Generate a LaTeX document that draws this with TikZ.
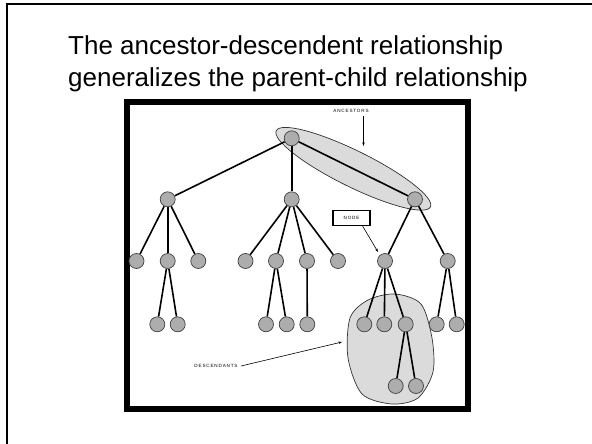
\documentclass[tikz,border=0pt]{standalone}
\usepackage{fontspec}
\setmainfont{Liberation Sans}
\usetikzlibrary{arrows.meta,positioning,shapes.geometric,calc,backgrounds}
\definecolor{vertgray}{rgb}{0.68,0.68,0.68}
\definecolor{blobgray}{rgb}{0.86,0.86,0.86}

\begin{document}
\begin{tikzpicture}[x=1pt,y=-1pt,
   vx/.style={circle,draw=black!75,fill=vertgray,line width=0.7pt,minimum size=15pt,inner sep=0pt},
   ed/.style={line width=1.6pt},
   tag/.style={font=\fontsize{4.6}{5}\selectfont\addfontfeature{LetterSpace=18}},
   ttl/.style={font=\fontsize{26}{30}\selectfont,anchor=base west,inner sep=0pt},
   pointer/.style={-{Stealth[length=3.5pt,width=2.5pt]},line width=0.6pt}]
  \useasboundingbox (0,0) rectangle (592,444);
  % slide frame
  \draw[line width=2pt] (592,4) -- (7,4) -- (7,444);
  \node[ttl] (t1) at (68,54.5) {The ancestor-descendent relationship};
  \node[ttl] (t2) at (68,87) {generalizes the parent-child relationship};
  \draw[line width=6pt] (127,102) rectangle (468,409);
  % the tree
  \node[vx] (r) at (291.7,138.3) {};
  \node[vx] (a) at (167.7,199.3) {};
  \node[vx] (b) at (291.7,199.3) {};
  \node[vx] (c) at (415,199.3) {};
  \node[vx] (a1) at (136.5,261) {};
  \node[vx] (a2) at (167.7,261) {};
  \node[vx] (a3) at (198.3,261) {};
  \node[vx] (b1) at (245.5,261) {};
  \node[vx] (b2) at (276,261) {};
  \node[vx] (b3) at (307,261) {};
  \node[vx] (b4) at (338,261) {};
  \node[vx] (c1) at (385,261) {};
  \node[vx] (c2) at (447.7,261) {};
  \node[vx] (a21) at (157.3,324.3) {};
  \node[vx] (a22) at (177.7,324.3) {};
  \node[vx] (b21) at (266,324.3) {};
  \node[vx] (b22) at (286.7,324.3) {};
  \node[vx] (b31) at (307.3,324.3) {};
  \node[vx] (c11) at (364.3,324.3) {};
  \node[vx] (c12) at (384.3,324.3) {};
  \node[vx] (c13) at (405.7,324.3) {};
  \node[vx] (c21) at (436.7,324.3) {};
  \node[vx] (c22) at (456.7,324.3) {};
  \node[vx] (c131) at (395.7,386) {};
  \node[vx] (c132) at (416,386) {};
  \begin{scope}[on background layer]
    \node[ellipse,draw=black!80,fill=blobgray,line width=0.7pt,minimum width=172pt,
          minimum height=36pt,rotate=-26.3] (anc) at ($(r)!0.5!(c)$) {};
    \draw[black!80,fill=blobgray,line width=0.7pt] plot[smooth cycle] coordinates
      {(350,318) (368,300) (395,294) (421,304) (432,338) (433,372) (418,398) (392,404) (362,394) (348,358)};
    \foreach \p/\q in {r/a,r/b,r/c,a/a1,a/a2,a/a3,b/b1,b/b2,b/b3,b/b4,c/c1,c/c2,
                       a2/a21,a2/a22,b2/b21,b2/b22,b3/b31,c1/c11,c1/c12,c1/c13,
                       c2/c21,c2/c22,c13/c131,c13/c132}
      \draw[ed] (\p) -- (\q);
  \end{scope}
  % labels
  \node[tag] (ancl) at (351,111) {ANCESTORS};
  \coordinate (ancp) at (363.5,146);
  \draw[pointer] (ancl.south -| ancp) -- (ancp);
  \node[draw,line width=1.4pt,minimum width=37pt,minimum height=15pt,inner sep=0pt,tag] (nd) at (351.5,218) {NODE};
  \coordinate (ndp) at (378,252);
  \draw[pointer] (nd.south east) ++(-8pt,0) -- (ndp);
  \node[tag] (desl) at (216,366) {DESCENDANTS};
  \coordinate (desp) at (342,342);
  \draw[pointer] (desl.east) -- (desp);
\end{tikzpicture}
\end{document}
